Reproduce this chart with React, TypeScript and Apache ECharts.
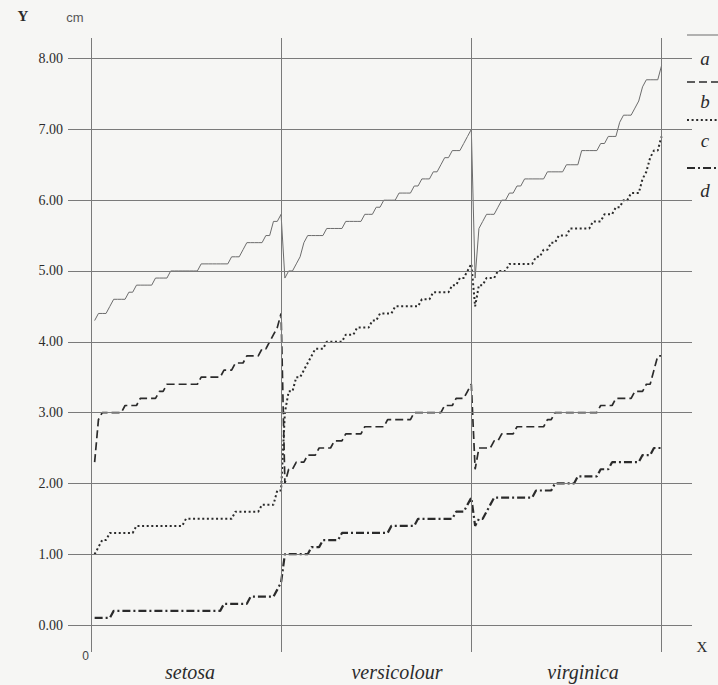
import React, { useEffect, useRef } from "react";
import * as echarts from "echarts";

// Sorted measurements (cm) per species, 50 samples each
const categories = ["setosa", "versicolour", "virginica"];
const seriesNames = ["a", "b", "c", "d"];
const yTicks = [0, 1, 2, 3, 4, 5, 6, 7, 8];
const sectionBounds = [0, 50, 100, 150];

const setosaA = [4.3, 4.4, 4.4, 4.4, 4.5, 4.6, 4.6, 4.6, 4.6, 4.7, 4.7, 4.8, 4.8, 4.8, 4.8, 4.8, 4.9, 4.9, 4.9, 4.9, 5.0, 5.0, 5.0, 5.0, 5.0, 5.0, 5.0, 5.0, 5.1, 5.1, 5.1, 5.1, 5.1, 5.1, 5.1, 5.1, 5.2, 5.2, 5.2, 5.3, 5.4, 5.4, 5.4, 5.4, 5.4, 5.5, 5.5, 5.7, 5.7, 5.8];
const setosaB = [2.3, 2.9, 3.0, 3.0, 3.0, 3.0, 3.0, 3.0, 3.1, 3.1, 3.1, 3.1, 3.2, 3.2, 3.2, 3.2, 3.2, 3.3, 3.3, 3.4, 3.4, 3.4, 3.4, 3.4, 3.4, 3.4, 3.4, 3.4, 3.5, 3.5, 3.5, 3.5, 3.5, 3.5, 3.6, 3.6, 3.6, 3.7, 3.7, 3.7, 3.8, 3.8, 3.8, 3.8, 3.9, 3.9, 4.0, 4.1, 4.2, 4.4];
const setosaC = [1.0, 1.1, 1.2, 1.2, 1.3, 1.3, 1.3, 1.3, 1.3, 1.3, 1.3, 1.4, 1.4, 1.4, 1.4, 1.4, 1.4, 1.4, 1.4, 1.4, 1.4, 1.4, 1.4, 1.4, 1.5, 1.5, 1.5, 1.5, 1.5, 1.5, 1.5, 1.5, 1.5, 1.5, 1.5, 1.5, 1.5, 1.6, 1.6, 1.6, 1.6, 1.6, 1.6, 1.6, 1.7, 1.7, 1.7, 1.7, 1.9, 1.9];
const setosaD = [0.1, 0.1, 0.1, 0.1, 0.1, 0.2, 0.2, 0.2, 0.2, 0.2, 0.2, 0.2, 0.2, 0.2, 0.2, 0.2, 0.2, 0.2, 0.2, 0.2, 0.2, 0.2, 0.2, 0.2, 0.2, 0.2, 0.2, 0.2, 0.2, 0.2, 0.2, 0.2, 0.2, 0.2, 0.3, 0.3, 0.3, 0.3, 0.3, 0.3, 0.3, 0.4, 0.4, 0.4, 0.4, 0.4, 0.4, 0.4, 0.5, 0.6];

const versicolourA = [4.9, 5.0, 5.0, 5.1, 5.2, 5.4, 5.5, 5.5, 5.5, 5.5, 5.5, 5.6, 5.6, 5.6, 5.6, 5.6, 5.7, 5.7, 5.7, 5.7, 5.7, 5.8, 5.8, 5.8, 5.9, 5.9, 6.0, 6.0, 6.0, 6.0, 6.1, 6.1, 6.1, 6.1, 6.2, 6.2, 6.3, 6.3, 6.3, 6.4, 6.4, 6.5, 6.6, 6.6, 6.7, 6.7, 6.7, 6.8, 6.9, 7.0];
const versicolourB = [2.0, 2.2, 2.2, 2.3, 2.3, 2.3, 2.4, 2.4, 2.4, 2.5, 2.5, 2.5, 2.5, 2.6, 2.6, 2.6, 2.7, 2.7, 2.7, 2.7, 2.7, 2.8, 2.8, 2.8, 2.8, 2.8, 2.8, 2.9, 2.9, 2.9, 2.9, 2.9, 2.9, 2.9, 3.0, 3.0, 3.0, 3.0, 3.0, 3.0, 3.0, 3.0, 3.1, 3.1, 3.1, 3.2, 3.2, 3.2, 3.3, 3.4];
const versicolourC = [3.0, 3.3, 3.3, 3.5, 3.5, 3.6, 3.7, 3.8, 3.9, 3.9, 3.9, 4.0, 4.0, 4.0, 4.0, 4.0, 4.1, 4.1, 4.1, 4.2, 4.2, 4.2, 4.2, 4.3, 4.3, 4.4, 4.4, 4.4, 4.4, 4.5, 4.5, 4.5, 4.5, 4.5, 4.5, 4.5, 4.6, 4.6, 4.6, 4.7, 4.7, 4.7, 4.7, 4.7, 4.8, 4.8, 4.9, 4.9, 5.0, 5.1];
const versicolourD = [1.0, 1.0, 1.0, 1.0, 1.0, 1.0, 1.0, 1.1, 1.1, 1.1, 1.2, 1.2, 1.2, 1.2, 1.2, 1.3, 1.3, 1.3, 1.3, 1.3, 1.3, 1.3, 1.3, 1.3, 1.3, 1.3, 1.3, 1.3, 1.4, 1.4, 1.4, 1.4, 1.4, 1.4, 1.4, 1.5, 1.5, 1.5, 1.5, 1.5, 1.5, 1.5, 1.5, 1.5, 1.5, 1.6, 1.6, 1.6, 1.7, 1.8];

const virginicaA = [4.9, 5.6, 5.7, 5.8, 5.8, 5.8, 5.9, 6.0, 6.0, 6.1, 6.1, 6.2, 6.2, 6.3, 6.3, 6.3, 6.3, 6.3, 6.3, 6.4, 6.4, 6.4, 6.4, 6.4, 6.5, 6.5, 6.5, 6.5, 6.7, 6.7, 6.7, 6.7, 6.7, 6.8, 6.8, 6.9, 6.9, 6.9, 7.1, 7.2, 7.2, 7.2, 7.3, 7.4, 7.6, 7.7, 7.7, 7.7, 7.7, 7.9];
const virginicaB = [2.2, 2.5, 2.5, 2.5, 2.5, 2.6, 2.6, 2.7, 2.7, 2.7, 2.7, 2.8, 2.8, 2.8, 2.8, 2.8, 2.8, 2.8, 2.8, 2.9, 2.9, 3.0, 3.0, 3.0, 3.0, 3.0, 3.0, 3.0, 3.0, 3.0, 3.0, 3.0, 3.0, 3.1, 3.1, 3.1, 3.1, 3.2, 3.2, 3.2, 3.2, 3.2, 3.3, 3.3, 3.3, 3.4, 3.4, 3.6, 3.8, 3.8];
const virginicaC = [4.5, 4.8, 4.8, 4.9, 4.9, 4.9, 5.0, 5.0, 5.0, 5.1, 5.1, 5.1, 5.1, 5.1, 5.1, 5.1, 5.2, 5.2, 5.3, 5.3, 5.4, 5.4, 5.5, 5.5, 5.5, 5.6, 5.6, 5.6, 5.6, 5.6, 5.6, 5.7, 5.7, 5.7, 5.8, 5.8, 5.8, 5.9, 5.9, 6.0, 6.0, 6.1, 6.1, 6.1, 6.3, 6.4, 6.6, 6.7, 6.7, 6.9];
const virginicaD = [1.4, 1.5, 1.5, 1.6, 1.7, 1.8, 1.8, 1.8, 1.8, 1.8, 1.8, 1.8, 1.8, 1.8, 1.8, 1.8, 1.9, 1.9, 1.9, 1.9, 1.9, 2.0, 2.0, 2.0, 2.0, 2.0, 2.0, 2.1, 2.1, 2.1, 2.1, 2.1, 2.1, 2.2, 2.2, 2.2, 2.3, 2.3, 2.3, 2.3, 2.3, 2.3, 2.3, 2.3, 2.4, 2.4, 2.4, 2.5, 2.5, 2.5];

const seriesValues = [
  [...setosaA, ...versicolourA, ...virginicaA],
  [...setosaB, ...versicolourB, ...virginicaB],
  [...setosaC, ...versicolourC, ...virginicaC],
  [...setosaD, ...versicolourD, ...virginicaD],
];

const INK = "#2b2b2b";
const GRID = "#7a7a7a";
const SERIF = "'Liberation Serif', 'DejaVu Serif', serif";
const SANS = "'Liberation Sans', Arial, sans-serif";

const lineStyles = [
  { color: "#6c6c6c", width: 1, type: "solid" as any },
  { color: INK, width: 1.7, type: [8, 4] as any },
  { color: INK, width: 2, type: [2, 2.6] as any },
  { color: INK, width: 2.2, type: [8, 3, 2, 3] as any },
];

function txt(text: string, x: number, y: number, opts: any = {}) {
  return {
    type: "text",
    silent: true,
    style: {
      text,
      x,
      y,
      fill: opts.fill || INK,
      fontSize: opts.fontSize || 14,
      fontFamily: opts.fontFamily || SERIF,
      fontStyle: opts.fontStyle || "normal",
      fontWeight: opts.fontWeight || "normal",
      align: "center",
      verticalAlign: "middle",
      textAlign: "center",
      textVerticalAlign: "middle",
    },
  };
}

export default function App() {
  const ref = useRef<HTMLDivElement>(null);

  useEffect(() => {
    if (!ref.current) return;
    const chart = echarts.init(ref.current, undefined, { renderer: "svg" });

    const legendY = [35, 82, 120, 168];
    const legendTextY = [58, 101, 140, 190];

    const graphic: any[] = [
      txt("Y", 23, 16, { fontSize: 15, fontWeight: "bold" }),
      txt("cm", 75, 17, { fontSize: 13, fontFamily: SANS, fill: "#555" }),
      txt("X", 702, 647, { fontSize: 15 }),
      txt("0", 85.5, 656, { fontSize: 12, fontFamily: SANS, fill: "#444" }),
      txt(categories[0], 190, 672, { fontSize: 20, fontStyle: "italic" }),
      txt(categories[1], 397, 672, { fontSize: 20, fontStyle: "italic" }),
      txt(categories[2], 583, 672, { fontSize: 20, fontStyle: "italic" }),
    ];
    seriesNames.forEach((n, i) => {
      const ls = lineStyles[i];
      graphic.push({
        type: "line",
        silent: true,
        shape: { x1: 687, y1: legendY[i], x2: 720, y2: legendY[i] },
        style: {
          stroke: ls.color,
          lineWidth: ls.width,
          lineDash: Array.isArray(ls.type) ? ls.type : null,
        },
      });
      graphic.push(txt(n, 705, legendTextY[i], { fontSize: 19, fontStyle: "italic" }));
    });

    const series: any[] = seriesNames.map((n, i) => ({
      name: n,
      type: "line",
      symbol: "none",
      showSymbol: false,
      lineStyle: { ...lineStyles[i], cap: "butt" },
      data: seriesValues[i].map((v, j) => [j + 1, v]),
      z: 3,
    }));

    series.push({
      name: "grid",
      type: "line",
      data: [],
      silent: true,
      markLine: {
        silent: true,
        symbol: "none",
        animation: false,
        label: { show: false },
        lineStyle: { color: GRID, width: 1, type: "solid" },
        emphasis: { disabled: true },
        data: [
          ...sectionBounds.map((x) => ({ xAxis: x })),
          ...yTicks.map((y) => ({ yAxis: y })),
        ],
      },
      z: 1,
    });

    chart.setOption({
      animation: false,
      backgroundColor: "#f6f6f4",
      grid: { left: 68, right: 26, top: 38, bottom: 33 },
      xAxis: {
        type: "value",
        min: -6,
        max: 158,
        axisLine: { show: false },
        axisTick: { show: false },
        axisLabel: { show: false },
        splitLine: { show: false },
      },
      yAxis: {
        type: "value",
        min: -0.381,
        max: 8.29,
        axisLine: { show: false },
        axisTick: { show: false },
        splitLine: { show: false },
        axisLabel: {
          customValues: yTicks,
          formatter: (v: number) => v.toFixed(2),
          margin: 5,
          fontSize: 14,
          fontFamily: SERIF,
          color: INK,
        },
      },
      graphic,
      series,
    });

    return () => chart.dispose();
  }, []);

  return (
    <div
      ref={ref}
      style={{ position: "absolute", left: 0, top: 0, width: 718, height: 685 }}
    />
  );
}
